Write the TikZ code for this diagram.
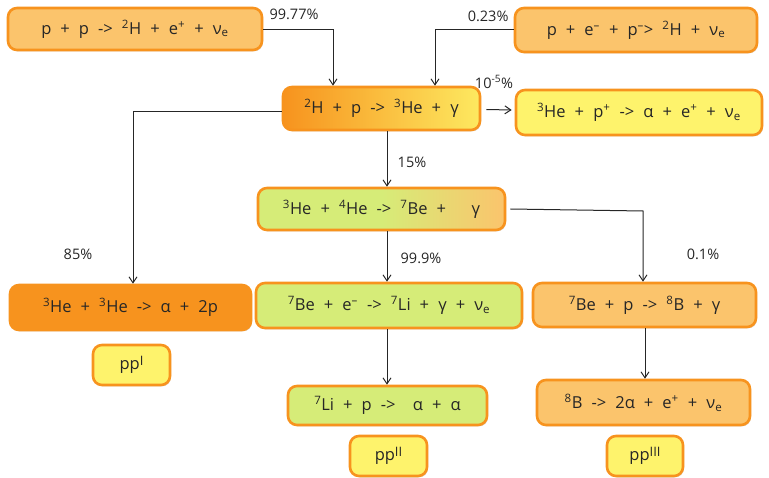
\documentclass[tikz,border=0pt]{standalone}
\usepackage{fontspec}
\setmainfont{Open Sans}
\usetikzlibrary{arrows.meta,shadows,calc}
\definecolor{obord}{HTML}{F7931E}
\definecolor{lorange}{HTML}{FBC46C}
\definecolor{dorange}{HTML}{F7931E}
\definecolor{morange}{HTML}{FAB24A}
\definecolor{lyellow}{HTML}{FEF36C}
\definecolor{lgreen}{HTML}{D6EC78}
\definecolor{gyellow}{HTML}{FDE960}
\newcommand{\mysup}[1]{\textsuperscript{#1}}
\newcommand{\mysub}[1]{\textsubscript{#1}}
\newcommand{\ppsup}[1]{\raisebox{0.45ex}{\fontsize{13}{14}\selectfont #1}}
\newcommand{\pl}{\hspace{0.55em}+\hspace{0.55em}}
\newcommand{\rarr}{\hspace{0.55em}->\hspace{0.55em}}
\begin{document}
\begin{tikzpicture}[x=1pt,y=-1pt,
  box/.style={draw=obord,line width=2.6pt,rounded corners=9pt,inner sep=0pt,
    font=\fontsize{16.5}{18}\selectfont,text=black!85,
    drop shadow={shadow xshift=1pt,shadow yshift=-1.5pt,opacity=0.25}},
  lab/.style={font=\fontsize{14.5}{16}\selectfont,text=black!85},
  conn/.style={line width=1pt,black!85},
  arr/.style={conn,-{Straight Barb[length=6pt,width=8pt]}}]
\useasboundingbox (0,0) rectangle (769,478);
% boxes
\node[box,fill=lorange,minimum width=254pt,minimum height=42pt] (pp) at (135,29) {p\pl p\rarr\mysup{2}H\pl e\mysup{+}\pl ν\mysub{e}};
\node[box,fill=lorange,minimum width=242pt,minimum height=44pt] (pep) at (636,30) {p\pl e\mysup{--}\pl p\mysup{--}>\hspace{0.55em}\mysup{2}H\pl ν\mysub{e}};
\node[box,left color=dorange,middle color=morange,right color=gyellow,minimum width=197pt,minimum height=43pt] (dp) at (381.5,108.5) {\mysup{2}H\pl p\rarr\mysup{3}He\pl γ};
\node[box,fill=lyellow,minimum width=246pt,minimum height=45pt] (hep) at (639,112.5) {\mysup{3}He\pl p\mysup{+}\rarr α\pl e\mysup{+}\pl ν\mysub{e}};
\node[box,left color=lgreen,right color=lorange,middle color=lgreen,minimum width=247pt,minimum height=42pt] (be7) at (381.5,209) {\mysup{3}He\pl \mysup{4}He\rarr\mysup{7}Be\pl\hspace{1em}γ};
\node[box,fill=dorange,minimum width=241pt,minimum height=45pt] (he3) at (130.5,307.5) {\mysup{3}He\pl\mysup{3}He\rarr α\pl 2p};
\node[box,fill=lgreen,minimum width=266pt,minimum height=45pt] (ec) at (389,305.5) {\mysup{7}Be\pl e\mysup{--}\rarr\mysup{7}Li\pl γ\pl ν\mysub{e}};
\node[box,fill=lorange,minimum width=223pt,minimum height=44pt] (bep) at (644.5,305) {\mysup{7}Be\pl p\rarr\mysup{8}B\pl γ};
\node[box,fill=lyellow,minimum width=77pt,minimum height=40pt] (ppI) at (131.5,365) {pp\ppsup{I}};
\node[box,fill=lgreen,minimum width=199pt,minimum height=39pt] (li) at (387.5,405.5) {\mysup{7}Li\pl p\rarr\hspace{0.5em}α\pl α};
\node[box,fill=lorange,minimum width=213pt,minimum height=45pt] (b8) at (643.5,402.5) {\mysup{8}B\rarr 2α\pl e\mysup{+}\pl ν\mysub{e}};
\node[box,fill=lyellow,minimum width=77pt,minimum height=40pt] (ppII) at (388.5,456) {pp\ppsup{II}};
\node[box,fill=lyellow,minimum width=76pt,minimum height=40pt] (ppIII) at (645,456) {pp\ppsup{III}};
% connectors
\coordinate (c1) at (333,30);
\coordinate (c2) at (435,30);
\coordinate (c3) at (133,112);
\coordinate (c4) at (643,211);
\coordinate (c5) at (387,0);
\coordinate (c6) at (645,0);
\draw[arr] (pp.east |- c1) -- (c1) -- (c1 |- dp.north);
\draw[arr] (pep.west |- c2) -- (c2) -- (c2 |- dp.north);
\draw[arr] ($(dp.east)+(5,1)$) -- ($(hep.west)+(-3,-2.5)$);
\draw[arr] (dp.west |- c3) -- (c3) -- (c3 |- he3.north);
\draw[arr] (c5 |- dp.south) -- (c5 |- be7.north);
\draw[arr] (c5 |- be7.south) -- (c5 |- ec.north);
\draw[arr] ($(be7.east)+(4,0)$) -- (c4) -- (c4 |- bep.north);
\draw[arr] (c5 |- ec.south) -- (c5 |- li.north);
\draw[arr] (c6 |- bep.south) -- (c6 |- b8.north);
% labels
\node[lab,anchor=west] (l1) at (266,14) {99.77\%};
\node[lab,anchor=east] (l2) at (512,16) {0.23\%};
\node[lab] (l3) at (494,82) {10\mysup{-5}\%};
\node[lab] (l4) at (412,162) {15\%};
\node[lab] (l5) at (78,254) {85\%};
\node[lab] (l6) at (421,258) {99.9\%};
\node[lab] (l7) at (703,254) {0.1\%};
\end{tikzpicture}
\end{document}
